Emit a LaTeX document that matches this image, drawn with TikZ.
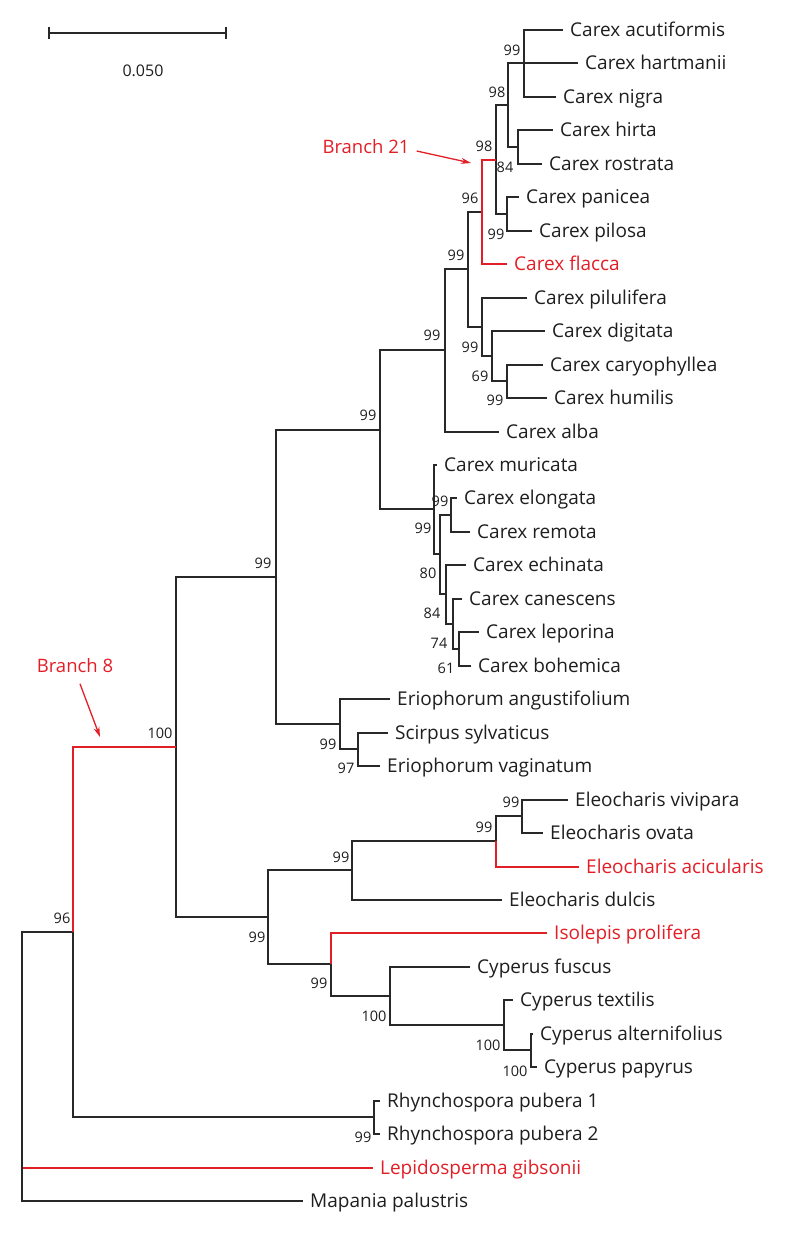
\documentclass[tikz,border=0pt]{standalone}
\usepackage{fontspec}
\setmainfont{Open Sans}
\usetikzlibrary{arrows.meta}
\definecolor{tred}{RGB}{226,30,38}
\definecolor{tblk}{RGB}{30,30,30}
\definecolor{lblk}{RGB}{40,40,40}
\tikzset{
  br/.style={draw=lblk, line width=1.7pt},
  rbr/.style={draw=tred, line width=1.7pt},
  leaf/.style={anchor=west, inner xsep=7pt, inner ysep=0pt, text height=13.6pt, text depth=0pt, font=\fontsize{19}{19}\selectfont, text=tblk},
  rleaf/.style={leaf, text=tred},
  bs/.style={inner sep=0pt, text height=10.4pt, text depth=0pt, font=\fontsize{14.5}{14.5}\selectfont, text=tblk},
  callout/.style={text=tred, inner sep=3pt, text height=13.2pt, text depth=0pt, font=\fontsize{18.5}{18.5}\selectfont},
  arr/.style={draw=tred, line width=1.3pt, -{Stealth[length=10pt,width=6pt]}},
}
\begin{document}
\begin{tikzpicture}[x=1pt,y=-1pt]
\useasboundingbox (0,0) rectangle (787,1235);
% leaves
\node[leaf] (t0) at (563,30) {Carex acutiformis};
\node[leaf] (t1) at (578,63) {Carex hartmanii};
\node[leaf] (t2) at (556,97) {Carex nigra};
\node[leaf] (t3) at (553,130) {Carex hirta};
\node[leaf] (t4) at (542,164) {Carex rostrata};
\node[leaf] (t5) at (519,197) {Carex panicea};
\node[leaf] (t6) at (532,231) {Carex pilosa};
\node[rleaf] (t7) at (507,264) {Carex flacca};
\node[leaf] (t8) at (527,298) {Carex pilulifera};
\node[leaf] (t9) at (545,331) {Carex digitata};
\node[leaf] (t10) at (543,365) {Carex caryophyllea};
\node[leaf] (t11) at (547,398) {Carex humilis};
\node[leaf] (t12) at (499,432) {Carex alba};
\node[leaf] (t13) at (437,465) {Carex muricata};
\node[leaf] (t14) at (457,498) {Carex elongata};
\node[leaf] (t15) at (470,532) {Carex remota};
\node[leaf] (t16) at (466,565) {Carex echinata};
\node[leaf] (t17) at (462,599) {Carex canescens};
\node[leaf] (t18) at (479,632) {Carex leporina};
\node[leaf] (t19) at (471,666) {Carex bohemica};
\node[leaf] (t20) at (390,699) {Eriophorum angustifolium};
\node[leaf] (t21) at (388,733) {Scirpus sylvaticus};
\node[leaf] (t22) at (380,766) {Eriophorum vaginatum};
\node[leaf] (t23) at (568,800) {Eleocharis vivipara};
\node[leaf] (t24) at (543,833) {Eleocharis ovata};
\node[rleaf] (t25) at (579,867) {Eleocharis acicularis};
\node[leaf] (t26) at (502,900) {Eleocharis dulcis};
\node[rleaf] (t27) at (547,933) {Isolepis prolifera};
\node[leaf] (t28) at (470,967) {Cyperus fuscus};
\node[leaf] (t29) at (513,1000) {Cyperus textilis};
\node[leaf] (t30) at (533,1034) {Cyperus alternifolius};
\node[leaf] (t31) at (537,1067) {Cyperus papyrus};
\node[leaf] (t32) at (380,1101) {Rhynchospora pubera 1};
\node[leaf] (t33) at (380,1134) {Rhynchospora pubera 2};
\node[rleaf] (t34) at (373,1168) {Lepidosperma gibsonii};
\node[leaf] (t35) at (303,1201) {Mapania palustris};
% internal nodes
\coordinate (A) at (524,63);
\coordinate (HR) at (518,147);
\coordinate (B) at (508,105);
\coordinate (PP) at (507,214);
\coordinate (D) at (496,160);
\coordinate (E) at (482,212);
\coordinate (H) at (507,381);
\coordinate (G) at (492,356);
\coordinate (F) at (482,327);
\coordinate (I) at (468,269);
\coordinate (J) at (445,350);
\coordinate (N1) at (451,515);
\coordinate (N5) at (459,649);
\coordinate (N4) at (453,624);
\coordinate (N3) at (446,594);
\coordinate (N2) at (440,554);
\coordinate (L) at (434,509);
\coordinate (K) at (380,430);
\coordinate (Q) at (358,749);
\coordinate (P) at (340,724);
\coordinate (O) at (276,577);
\coordinate (T) at (522,816);
\coordinate (U) at (496,841);
\coordinate (V) at (352,870);
\coordinate (Z) at (531,1050);
\coordinate (Y) at (504,1025);
\coordinate (X) at (390,996);
\coordinate (W) at (331,964);
\coordinate (V2) at (268,917);
\coordinate (R) at (176,747);
\coordinate (RH) at (374,1117);
\coordinate (S) at (73,932);
\coordinate (root) at (22,1066);
% red branch to Lepidosperma (under the black root line)
\draw[rbr] ([xshift=-0.6pt]root) |- (t34.west);
% black branches
\foreach \p/\c in {A/t0.west, A/t2.west, B/A, B/t1.west, B/HR, HR/t3.west, HR/t4.west,
  D/B, D/PP, PP/t5.west, PP/t6.west, I/E, I/F, F/t8.west, F/G, G/t9.west, G/H,
  H/t10.west, H/t11.west, J/I, J/t12.west, K/J, K/L, L/t13.west, L/N2, N2/N1, N2/N3,
  N1/t14.west, N1/t15.west, N3/t16.west, N3/N4, N4/t17.west, N4/N5, N5/t18.west, N5/t19.west,
  O/K, O/P, P/t20.west, P/Q, Q/t21.west, Q/t22.west, R/O, R/V2, V2/V, V2/W, V/U, V/t26.west,
  U/T, T/t23.west, T/t24.west, W/X, X/t28.west, X/Y, Y/t29.west, Y/Z, Z/t30.west, Z/t31.west,
  S/RH, RH/t32.west, RH/t33.west, root/S, root/t35.west}
  \draw[br] (\p) |- (\c);
% red branches
\foreach \p/\c in {E/D, E/t7.west, U/t25.west, W/t27.west, S/R}
  \draw[rbr] (\p) |- (\c);
% bootstrap values
\foreach \x/\y/\t [count=\k] in {512/50/99, 497/92/98, 484/146/98, 505/167/84, 470/198/96,
  496/234/99, 456/255/99, 432/335/99, 470/347/99, 480/376/69, 495/400/99, 368/415/99,
  440/501/99, 423/528/99, 428/573/80, 432/613/84, 439/643/74, 446/668/61,
  263/563/99, 328/744/99, 346/768/97, 160/733/100, 62/918/96, 257/937/99, 341/857/99,
  484/827/99, 511/802/99, 319/983/99, 374/1016/100, 488/1045/100, 515/1071/100, 363/1137/99}
  \node[bs] (bs\k) at (\x,\y) {\t};
% scale bar
\coordinate (sbl) at (49,33);
\coordinate (sbr) at (226,33);
\draw[br] (sbl) -- (sbr);
\draw[br] ([yshift=6pt]sbl) -- ([yshift=-6pt]sbl);
\draw[br] ([yshift=6pt]sbr) -- ([yshift=-6pt]sbr);
\node[inner sep=0pt, text height=11.4pt, text depth=0pt, font=\fontsize{16}{16}\selectfont, text=tblk] (sbt) at (143,71) {0.050};
% callouts
\node[callout] (b21) at (366,147) {Branch 21};
\coordinate (a21) at (471,163);
\draw[arr] ([xshift=4pt,yshift=-4pt]b21.east) -- (a21);
\node[callout] (b8) at (75,666) {Branch 8};
\coordinate (a8) at (100,737);
\draw[arr] ([xshift=5pt,yshift=-8pt]b8.south) -- (a8);
\end{tikzpicture}
\end{document}
